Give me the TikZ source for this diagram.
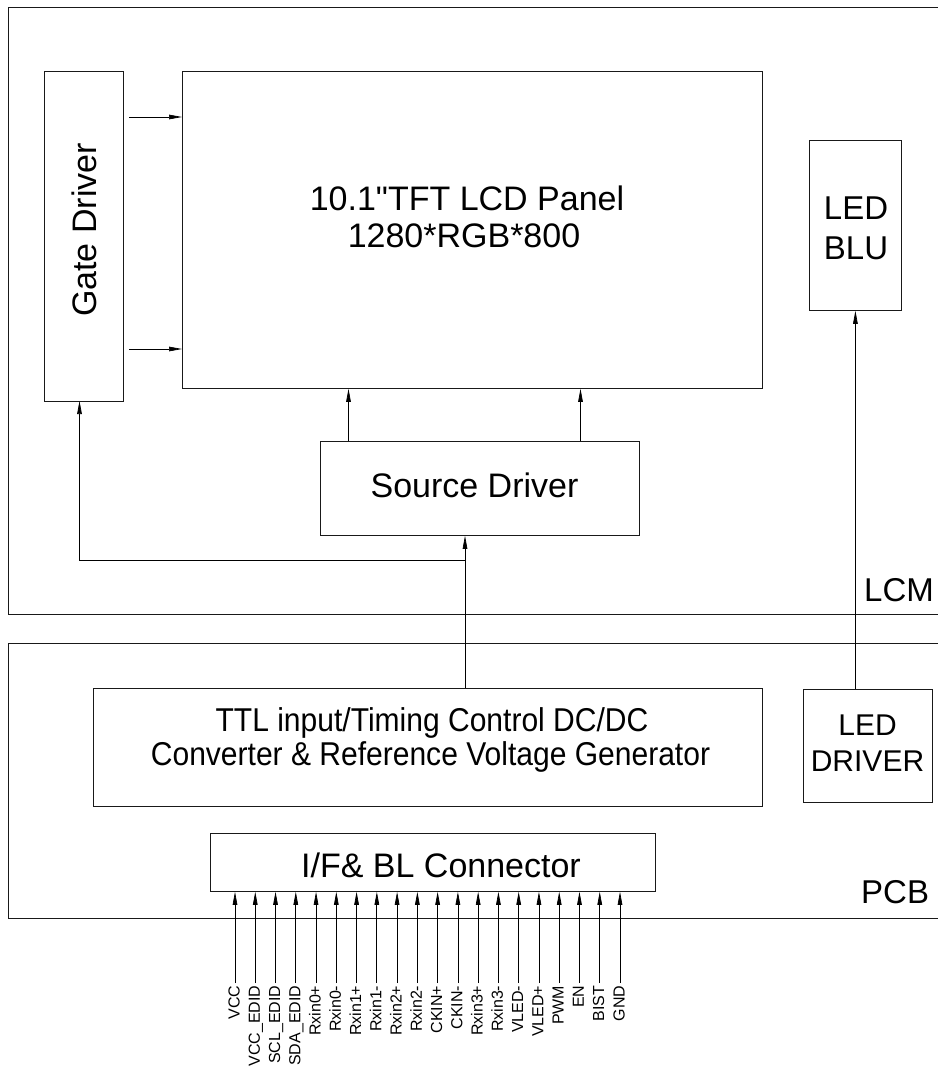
\documentclass[tikz,border=0pt]{standalone}
\usepackage{fontspec}
\setmainfont{Liberation Sans}[Ligatures=TeXOff]
\newfontfamily\condfont[FakeStretch=0.91,Ligatures=TeXOff]{Liberation Sans}
\usetikzlibrary{arrows.meta}
\tikzset{
  box/.style={draw=black!90, line width=0.8pt, inner sep=0pt, anchor=north west},
  lbl/.style={inner sep=0pt, anchor=base},
  arr/.style={draw=black, line width=0.7pt, -{Triangle[length=13pt,width=4.6pt]}},
  wire/.style={draw=black, line width=0.7pt},
  frame/.style={draw=black!90, line width=0.8pt},
  pinlbl/.style={inner sep=0pt, rotate=90, anchor=base east, font=\fontsize{16}{18}\selectfont},
}
\newcommand{\bx}[5]{\node[box, minimum width=#4pt, minimum height=#5pt] (#1) at (#2,#3) {};}
\begin{document}
\begin{tikzpicture}[x=1pt,y=-1pt]
\useasboundingbox (0,0) rectangle (937,1073);
% outer frames
\draw[frame] (940,7.5) -- (8.5,7.5) -- (8.5,614.5) -- (940,614.5);
\draw[frame] (940,643.5) -- (8.5,643.5) -- (8.5,918.5) -- (940,918.5);
\node[lbl, anchor=base west, font=\fontsize{33}{36}\selectfont] (lcm) at (864,601) {LCM};
\node[lbl, anchor=base west, font=\fontsize{33}{36}\selectfont] (pcb) at (861,903) {PCB};
% boxes
\bx{gate}{44}{71}{79}{330}
\bx{panel}{182}{71}{580}{317}
\bx{src}{320}{441}{319}{94}
\bx{blu}{809}{140}{92}{170}
\bx{ttl}{92.5}{688}{669.5}{118}
\bx{drv}{803}{689}{129}{113}
\bx{conn}{210}{833}{445}{58}
% texts
\node[lbl, rotate=90, font=\fontsize{34}{36}\selectfont] (gatet) at (96,230) {Gate Driver};
\node[lbl, font=\fontsize{34}{36}\selectfont] (pant1) at (467,210) {10.1"TFT LCD Panel};
\node[lbl, font=\fontsize{34}{36}\selectfont] (pant2) at (464,247) {1280*RGB*800};
\node[lbl, font=\fontsize{34}{36}\selectfont] (srct) at (474.5,497) {Source Driver};
\node[lbl, font=\fontsize{33}{36}\selectfont] (blut1) at (856,219) {LED};
\node[lbl, font=\fontsize{33}{36}\selectfont] (blut2) at (856,259) {BLU};
\node[lbl, font=\condfont\fontsize{33}{36}\selectfont] (ttlt1) at (432,731.5) {TTL input/Timing Control DC/DC};
\node[lbl, font=\condfont\fontsize{33}{36}\selectfont] (ttlt2) at (430.5,765) {Converter \& Reference Voltage Generator};
\node[lbl, font=\fontsize{30}{32}\selectfont] (drvt1) at (867.5,735) {LED};
\node[lbl, font=\fontsize{30}{32}\selectfont] (drvt2) at (867.5,771) {DRIVER};
\node[lbl, font=\fontsize{34}{36}\selectfont] (connt) at (441,877) {I/F\& BL Connector};
% gate driver to panel
\coordinate (g1) at (129,117);
\coordinate (g2) at (129,349);
\draw[arr] (g1) -- (g1 -| panel.west);
\draw[arr] (g2) -- (g2 -| panel.west);
% source driver to panel
\coordinate (s1) at (348.5,441);
\coordinate (s2) at (580.5,441);
\draw[arr] (s1) -- (s1 |- panel.south);
\draw[arr] (s2) -- (s2 |- panel.south);
% timing controller to source driver and gate driver
\coordinate (t1) at (465,688);
\coordinate (j) at (465,560);
\coordinate (gb) at (79.5,401);
\draw[arr] (t1) -- (t1 |- src.south);
\draw[arr] (j) -| (gb);
% LED driver to BLU
\draw[arr] (drv.north -| blu.south) -- (blu.south);
% pins
\foreach \lab [count=\i from 0] in {VCC,VCC\_EDID,SCL\_EDID,SDA\_EDID,Rxin0+,Rxin0-,Rxin1+,Rxin1-,Rxin2+,Rxin2-,CKIN+,CKIN-,Rxin3+,Rxin3-,VLED-,VLED+,PWM,EN,BIST,GND}{
  \pgfmathsetmacro{\px}{235+20.263*\i}
  \coordinate (p\i) at (\px,983);
  \draw[arr] (p\i) -- (p\i |- conn.south);
  \node[pinlbl] (pl\i) at (\px+4.5,985.5) {\lab};
}
\end{tikzpicture}
\end{document}
